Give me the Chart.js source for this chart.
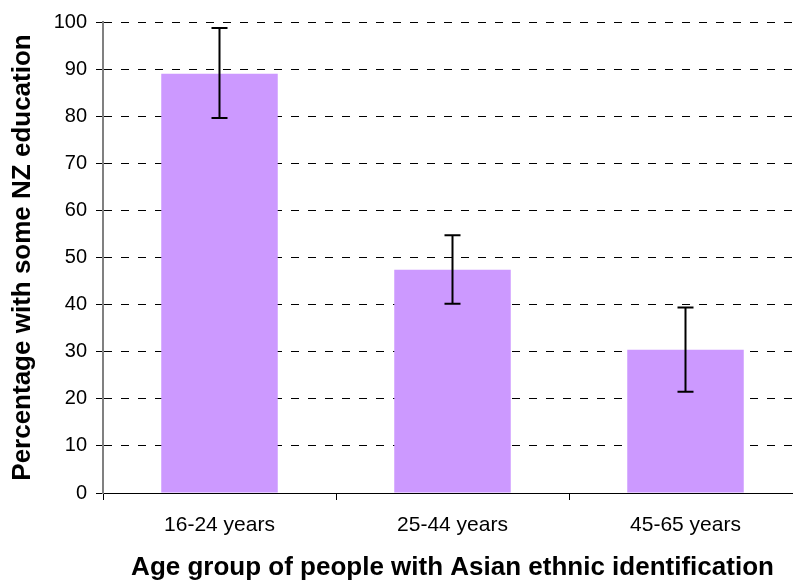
<!DOCTYPE html>
<html>
<head>
<meta charset="utf-8">
<script src="https://cdn.jsdelivr.net/npm/chart.js@4/dist/chart.umd.min.js"></script>
<style>
  html, body { margin: 0; padding: 0; background: #fff; overflow: hidden; }
  #wrap { width: 810px; height: 583px; }
</style>
</head>
<body>
<div id="wrap"><canvas id="c" width="810" height="583"></canvas></div>
<script>
// 데이터
const categories = ['16-24 years', '25-44 years', '45-65 years'];
const values = [89.0, 47.4, 30.4];
const errHigh = [98.7, 54.7, 39.4];
const errLow = [79.6, 40.2, 21.5];
const yTicks = [0, 10, 20, 30, 40, 50, 60, 70, 80, 90, 100];

const FONT = 'Arial, "Liberation Sans", sans-serif';

// 오차 막대 플러그인
const errorBars = {
    id: 'errorBars',
    afterDatasetsDraw(chart) {
        const ctx = chart.ctx;
        const x = chart.scales.x, y = chart.scales.y;
        ctx.save();
        ctx.strokeStyle = '#000';
        ctx.lineWidth = 2;
        categories.forEach((c, i) => {
            const px = x.getPixelForValue(i);
            const top = y.getPixelForValue(errHigh[i]);
            const bot = y.getPixelForValue(errLow[i]);
            ctx.beginPath();
            ctx.moveTo(px, top); ctx.lineTo(px, bot);
            ctx.moveTo(px - 8, top); ctx.lineTo(px + 8, top);
            ctx.moveTo(px - 8, bot); ctx.lineTo(px + 8, bot);
            ctx.stroke();
        });
        ctx.restore();
    }
};

new Chart(document.getElementById('c'), {
    type: 'bar',
    data: {
        labels: categories,
        datasets: [{ data: values, backgroundColor: '#CC99FF', borderWidth: 0, categoryPercentage: 1, barPercentage: 0.5 }]
    },
    options: {
        responsive: false, animation: false,
        layout: { padding: { top: 22, right: 8, left: 0, bottom: 0 } },
        plugins: { legend: { display: false }, tooltip: { enabled: false } },
        scales: {
            x: {
                offset: true,
                grid: { offset: true, drawOnChartArea: false, drawTicks: true, tickLength: 7, color: '#000', lineWidth: 1 },
                border: { color: '#000', width: 1 },
                ticks: { color: '#000', font: { family: FONT, size: 21 }, padding: 13 },
                title: { display: true, text: 'Age group of people with Asian ethnic identification', color: '#000', font: { family: FONT, size: 26, weight: 'bold' }, padding: { top: 6, bottom: 0 } },
                afterFit: s => { s.height = 90; }
            },
            y: {
                min: 0, max: 100,
                afterBuildTicks: s => { s.ticks = yTicks.map(v => ({ value: v })); },
                grid: {
                    color: ctx => ctx.index === 0 ? 'rgba(0,0,0,0)' : '#000',
                    tickColor: '#000', lineWidth: 1, tickLength: 7
                },
                border: { color: '#808080', width: 2, dash: [8, 9] },
                ticks: { color: '#000', font: { family: FONT, size: 20 }, padding: 9 },
                title: { display: true, text: 'Percentage with some NZ education', color: '#000', font: { family: FONT, size: 26, weight: 'bold' }, padding: { top: 7, bottom: 0 } },
                afterFit: s => { s.width = 103; }
            }
        }
    },
    plugins: [errorBars]
});
</script>
</body>
</html>
